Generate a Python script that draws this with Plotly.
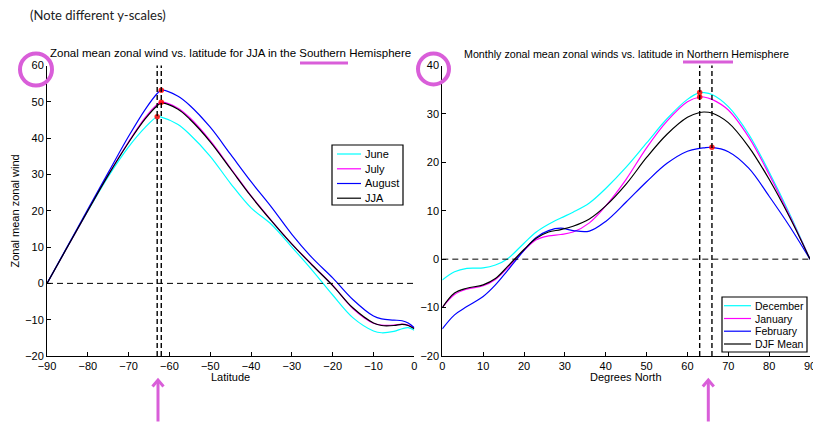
import plotly.graph_objects as go

W, H = 813, 427
FONT = "Liberation Sans"
ACCENT = "#d95ed9"

# ---- Southern Hemisphere, JJA zonal mean zonal wind (m/s) ----
sh_lat = [-90, -85, -80, -75, -70, -66, -63, -62, -58, -55, -50, -45, -40,
          -35, -30, -25, -20, -15, -10, -8, -5, -3, -1.5, 0]
june = [0, 10.0, 19.9, 29.4, 37.6, 42.9, 45.9, 45.8, 43.8, 41.0, 35.0, 27.5, 20.8,
        16.2, 10.0, 3.6, -3.2, -9.5, -13.1, -13.6, -13.2, -12.5, -12.2, -12.9]
july = [0, 10.0, 20.0, 29.9, 39.0, 45.6, 49.3, 49.9, 48.3, 45.6, 39.3, 31.7, 24.1,
        17.3, 10.9, 5.1, -0.5, -7.0, -11.0, -11.5, -11.5, -11.2, -11.5, -12.3]
august = [0, 10.2, 20.4, 30.5, 40.5, 47.8, 52.3, 53.2, 51.6, 49.0, 43.0, 35.5, 28.0,
          21.0, 13.5, 7.0, 1.5, -4.5, -9.0, -9.8, -10.1, -10.3, -10.9, -12.2]
jja = [0, 10.0, 20.0, 29.8, 38.8, 45.2, 48.9, 49.6, 48.0, 45.2, 39.0, 31.5, 24.0,
       17.2, 10.8, 5.0, -0.6, -6.8, -10.9, -11.6, -11.6, -11.3, -11.6, -12.5]
sh_names = ["June", "July", "August", "JJA"]
sh_series = [june, july, august, jja]

# jet maxima (latitude, speed) for June, July, August
sh_peak_lat = [-63, -62, -62]
sh_peak_val = [45.9, 49.9, 53.2]

# ---- Northern Hemisphere, DJF zonal mean zonal wind (m/s) ----
nh_lat = [0, 3, 6, 10, 13, 16, 20, 23, 26, 29, 32, 36, 40, 45, 50, 55, 60,
          63, 64, 66, 70, 75, 80, 85, 90]
december = [-4.3, -2.6, -1.9, -1.8, -1.2, 0.1, 3.3, 5.6, 7.2, 8.5, 9.7, 11.6, 14.6,
            19.0, 24.0, 29.0, 33.0, 34.4, 34.4, 34.0, 31.5, 25.8, 18.0, 9.4, 0]
january = [-10.0, -7.3, -6.2, -5.5, -4.2, -1.8, 1.8, 4.0, 4.8, 5.1, 5.6, 7.5, 11.0,
           16.5, 23.0, 28.5, 32.5, 33.5, 33.5, 33.0, 30.8, 25.2, 17.5, 9.0, 0]
february = [-14.4, -11.5, -9.8, -7.7, -5.3, -2.3, 1.8, 4.5, 5.9, 6.4, 5.9, 5.8, 7.8,
            11.8, 16.0, 19.8, 22.3, 22.9, 23.0, 23.1, 22.2, 18.8, 13.0, 6.8, 0]
djf_mean = [-10.0, -7.0, -6.0, -5.3, -4.0, -1.5, 2.0, 4.3, 5.6, 6.1, 6.8, 8.3, 11.0,
            15.5, 21.0, 25.8, 29.3, 30.3, 30.4, 30.2, 28.2, 23.2, 16.5, 8.7, 0]
nh_names = ["December", "January", "February", "DJF Mean"]
nh_series = [december, january, february, djf_mean]

# jet maxima (latitude, speed) for December, January, February
nh_peak_lat = [63, 63, 66]
nh_peak_val = [34.4, 33.5, 23.1]

colors = ["#00ffff", "#ff00ff", "#0000ff", "#000000"]

sh_xticks = list(range(-90, 1, 10))
nh_xticks = list(range(0, 91, 10))
sh_yticks = list(range(-20, 61, 10))
nh_yticks = list(range(-20, 41, 10))


def fx(p):
    return p / W


def fy(p):
    return 1 - p / H


fig = go.Figure()

for name, vals, c in zip(sh_names, sh_series, colors):
    fig.add_trace(go.Scatter(x=sh_lat, y=vals, name=name, mode="lines",
                             line=dict(color=c, width=1.2, shape="spline", smoothing=1.0),
                             xaxis="x", yaxis="y", showlegend=False))
for name, vals, c in zip(nh_names, nh_series, colors):
    fig.add_trace(go.Scatter(x=nh_lat, y=vals, name=name, mode="lines",
                             line=dict(color=c, width=1.2, shape="spline", smoothing=1.0),
                             xaxis="x2", yaxis="y2", showlegend=False))

# red dots on the jet maxima
fig.add_trace(go.Scatter(x=sh_peak_lat, y=sh_peak_val, mode="markers",
                         marker=dict(color="rgba(255,0,0,0.85)", size=5.5),
                         xaxis="x", yaxis="y", showlegend=False))
fig.add_trace(go.Scatter(x=nh_peak_lat, y=nh_peak_val, mode="markers",
                         marker=dict(color="rgba(255,0,0,0.85)", size=5.5),
                         xaxis="x2", yaxis="y2", showlegend=False))

shapes = []
# dashed verticals through the jet latitudes
for lat in sorted(set(sh_peak_lat)):
    shapes.append(dict(type="line", xref="x", yref="y domain", x0=lat, x1=lat, y0=0, y1=1,
                       line=dict(color="black", width=1.4, dash="5px,3px")))
for lat in sorted(set(nh_peak_lat)):
    shapes.append(dict(type="line", xref="x2", yref="y2 domain", x0=lat, x1=lat, y0=0, y1=1,
                       line=dict(color="black", width=1.4, dash="5px,3px")))
# zero lines
shapes.append(dict(type="line", xref="x domain", yref="y", x0=0, x1=1, y0=0, y1=0,
                   line=dict(color="black", width=1, dash="6px,4px")))
shapes.append(dict(type="line", xref="x2 domain", yref="y2", x0=0, x1=1, y0=0, y1=0,
                   line=dict(color="black", width=1, dash="6px,4px")))

annotations = []


def legend(box, rows, line_x, text_x, names, size):
    x0, y0, x1, y1 = box
    shapes.append(dict(type="rect", xref="paper", yref="paper",
                       x0=fx(x0), x1=fx(x1), y0=fy(y1), y1=fy(y0),
                       line=dict(color="black", width=1.2), fillcolor="white", layer="above"))
    for name, c, ry in zip(names, colors, rows):
        shapes.append(dict(type="line", xref="paper", yref="paper",
                           x0=fx(line_x[0]), x1=fx(line_x[1]), y0=fy(ry), y1=fy(ry),
                           line=dict(color=c, width=1.2), layer="above"))
        annotations.append(dict(text=name, xref="paper", yref="paper", x=fx(text_x), y=fy(ry),
                                xanchor="left", yanchor="middle", showarrow=False,
                                font=dict(family=FONT, size=size, color="black")))


legend((332, 145, 403, 205), [154, 168.8, 183.5, 198.2], (337, 361), 362.5, sh_names, 11)
legend((722, 297, 807, 352), [305.7, 318.5, 331.2, 344], (724, 751), 752.5, nh_names, 10.5)

# highlight marks: circles round the top y tick labels, underlines, arrows
for cx, cy, r in [(36, 69.5, 16), (433.5, 69, 15.5)]:
    shapes.append(dict(type="circle", xref="paper", yref="paper",
                       x0=fx(cx - r), x1=fx(cx + r), y0=fy(cy + r), y1=fy(cy - r),
                       line=dict(color=ACCENT, width=4)))
for x0, x1, y in [(300, 348, 63), (683, 733, 62)]:
    shapes.append(dict(type="line", xref="paper", yref="paper",
                       x0=fx(x0), x1=fx(x1), y0=fy(y), y1=fy(y),
                       line=dict(color=ACCENT, width=3)))
for ax in [158, 708.3]:
    shapes.append(dict(type="line", xref="paper", yref="paper",
                       x0=fx(ax), x1=fx(ax), y0=fy(421.5), y1=fy(381),
                       line=dict(color=ACCENT, width=3)))
    shapes.append(dict(type="path", xref="paper", yref="paper",
                       path=f"M {fx(ax - 5.5)} {fy(386.5)} L {fx(ax)} {fy(380)} L {fx(ax + 5.5)} {fy(386.5)}",
                       line=dict(color=ACCENT, width=3)))

# titles and labels
annotations += [
    dict(text="(Note different y-scales)", x=fx(28), y=fy(15), xanchor="left", yanchor="middle",
         font=dict(family="Lato", size=13, color="#222")),
    dict(text="Zonal mean zonal wind vs. latitude for JJA in the Southern Hemisphere",
         x=fx(230.5), y=fy(53), xanchor="center", yanchor="middle",
         font=dict(family=FONT, size=11.5, color="black")),
    dict(text="Monthly zonal mean zonal winds vs. latitude in Northern Hemisphere",
         x=fx(626.5), y=fy(54), xanchor="center", yanchor="middle",
         font=dict(family=FONT, size=10.7, color="black")),
    dict(text="Latitude", x=fx(231), y=fy(377), xanchor="center", yanchor="middle",
         font=dict(family=FONT, size=11, color="black")),
    dict(text="Degrees North", x=fx(626), y=fy(377), xanchor="center", yanchor="middle",
         font=dict(family=FONT, size=11, color="black")),
    dict(text="Zonal mean zonal wind", x=fx(14.5), y=fy(211), xanchor="center", yanchor="middle",
         textangle=-90, font=dict(family=FONT, size=11, color="black")),
]
for a in annotations:
    a.setdefault("xref", "paper")
    a.setdefault("yref", "paper")
    a["showarrow"] = False

axis_common = dict(showline=True, linecolor="black", linewidth=1, ticks="inside", ticklen=4,
                   tickcolor="black", showgrid=False, zeroline=False, mirror=False,
                   automargin=False, ticklabeloverflow="allow",
                   tickfont=dict(family=FONT, size=11, color="black"))

ydom = [fy(356), fy(65.5)]
fig.update_layout(
    width=W, height=H,
    margin=dict(l=0, r=0, t=0, b=0),
    paper_bgcolor="white", plot_bgcolor="white",
    showlegend=False,
    xaxis=dict(domain=[fx(47), fx(414.3)], range=[-90, 0], tickvals=sh_xticks,
               anchor="y", **axis_common),
    yaxis=dict(domain=ydom, range=[-20, 60], tickvals=sh_yticks, anchor="x", **axis_common),
    xaxis2=dict(domain=[fx(442.3), fx(810)], range=[0, 90], tickvals=nh_xticks,
                anchor="y2", **axis_common),
    yaxis2=dict(domain=ydom, range=[-20, 40], tickvals=nh_yticks, anchor="x2", **axis_common),
    shapes=shapes,
    annotations=annotations,
)

fig.write_html("out.html")
